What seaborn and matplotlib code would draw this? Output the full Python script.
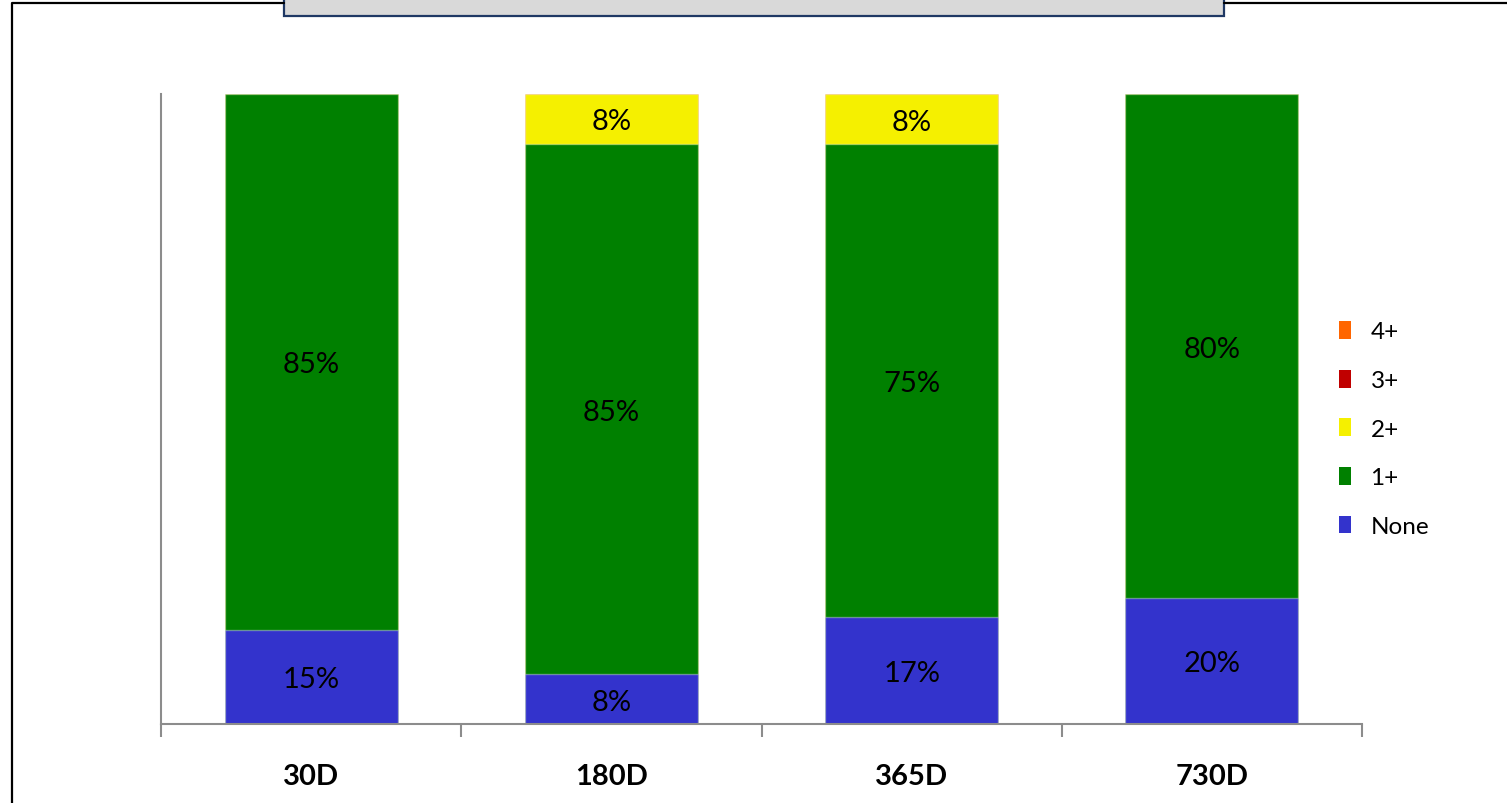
import matplotlib
matplotlib.use("Agg")
import matplotlib.pyplot as plt
import seaborn as sns
import numpy as np
import pandas as pd
from matplotlib.patches import Patch, Rectangle
from matplotlib.lines import Line2D

categories = ["30D", "180D", "365D", "730D"]
series = ["None", "1+", "2+", "3+", "4+"]
none_vals = [15, 8, 17, 20]
one_vals = [85, 85, 75, 80]
two_vals = [0, 8, 8, 0]
three_vals = [0, 0, 0, 0]
four_vals = [0, 0, 0, 0]
colors = {"None": "#3333CC", "1+": "#008000", "2+": "#F5F000",
          "3+": "#C00000", "4+": "#FF6600"}

sns.set_theme(style="white")
plt.rcParams['font.family'] = ['Lato', 'DejaVu Sans']
plt.rcParams['text.color'] = 'black'
plt.rcParams['xtick.labelcolor'] = 'black'

vals = np.array([none_vals, one_vals, two_vals, three_vals, four_vals], dtype=float)
norm = vals / vals.sum(axis=0) * 100
cum = np.cumsum(norm, axis=0)

fig = plt.figure(figsize=(15.07, 8.04), dpi=100)
ax = fig.add_axes([161/1507, 1-725/804, (1362-161)/1507, (725-95)/804])

# draw stacked bars from the top down (overdraw)
for i in range(len(series) - 1, -1, -1):
    df = pd.DataFrame({"cat": categories, "val": cum[i]})
    sns.barplot(data=df, x="cat", y="val", color=colors[series[i]],
                saturation=1, width=0.577, ax=ax,
                edgecolor=(1, 1, 1, 0.35), linewidth=1)

# value labels
for i, s in enumerate(series):
    for j in range(len(categories)):
        if vals[i, j] > 0:
            y = cum[i, j] - norm[i, j] / 2
            ax.text(j, y, f"{int(vals[i, j])}%", ha="center",
                    va="center_baseline", fontsize=21, color="black")

ax.set_xlim(-0.5, 3.5)
ax.set_ylim(0, 100)
ax.set_xlabel("")
ax.set_ylabel("")
ax.set_yticks([])
ax.set_xticks(range(len(categories)))
ax.set_xticklabels(categories, fontsize=21, fontweight="bold", color="black")
ax.set_xticks(np.arange(-0.5, 4, 1), minor=True)
ax.tick_params(axis="x", which="major", length=0, pad=28)
ax.tick_params(axis="x", which="minor", length=9, width=1.5,
               color="#8C8C8C", direction="out", bottom=True)
for sp in ["top", "right"]:
    ax.spines[sp].set_visible(False)
for sp in ["left", "bottom"]:
    ax.spines[sp].set_color("#8C8C8C")
    ax.spines[sp].set_linewidth(1.5)

# legend (reversed order)
handles = [Patch(facecolor=colors[s], edgecolor="none") for s in series[::-1]]
labels = ["4+", "3+", "2+", "1+", "None"]
fig.legend(handles, labels, loc="center left",
           bbox_to_anchor=(1317/1507, 1-430/804), frameon=False,
           fontsize=17.5, handlelength=0.5, handleheight=0.75,
           handletextpad=0.8, labelspacing=1.12, labelcolor="black")

# outer frame and title box
W, H = 1507, 804
def fx(x): return x / W
def fy(y): return 1 - y / H
fig.add_artist(Line2D([fx(12), fx(12), fx(284)], [fy(810), fy(3.5), fy(3.5)],
                      color="black", lw=1.6, transform=fig.transFigure))
fig.add_artist(Line2D([fx(1224), fx(1510)], [fy(3.5), fy(3.5)],
                      color="black", lw=1.6, transform=fig.transFigure))
fig.add_artist(Rectangle((fx(284), fy(17)), fx(1224) - fx(284), fy(-20) - fy(17),
                         transform=fig.transFigure, facecolor="#D9D9D9",
                         edgecolor="#1F3864", lw=1.6, clip_on=False))

fig.savefig("out.png", dpi=100, facecolor="white")
